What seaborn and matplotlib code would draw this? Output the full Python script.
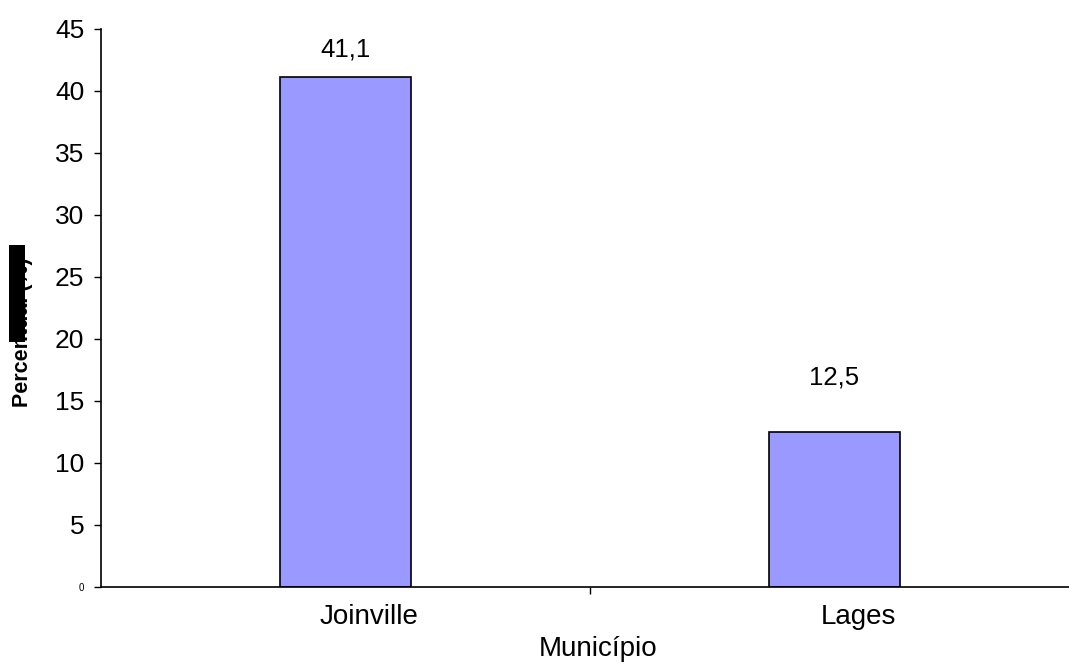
import matplotlib
matplotlib.use("Agg")
import matplotlib.pyplot as plt
import matplotlib.transforms as mtransforms
from matplotlib.patches import Rectangle
from matplotlib.ticker import FixedLocator
import seaborn as sns
import pandas as pd

municipios = ["Joinville", "Lages"]
percentual = [41.1, 12.5]
rotulos = ["41,1", "12,5"]
y_ticks = [0, 5, 10, 15, 20, 25, 30, 35, 40, 45]
label_offsets = [20, 39]

sns.set_style("white")
plt.rcParams["font.family"] = ["Liberation Sans", "DejaVu Sans"]
plt.rcParams["text.color"] = "black"
plt.rcParams["axes.labelcolor"] = "black"
plt.rcParams["xtick.color"] = "black"
plt.rcParams["ytick.color"] = "black"

df = pd.DataFrame({"Município": municipios, "Percentual": percentual})

fig = plt.figure(figsize=(10.69, 6.63), dpi=100)
ax = fig.add_axes([101 / 1069, 76 / 663, 978 / 1069, 558 / 663])

sns.barplot(data=df, x="Município", y="Percentual", color="#9999FF",
            edgecolor="black", linewidth=1.2, width=0.266, saturation=1, ax=ax)

ax.set_xlim(-0.5, 1.5)
ax.set_ylim(0, 45)
ax.set_yticks(y_ticks)
ax.set_yticklabels([str(v) for v in y_ticks])
for t in ax.get_yticklabels():
    if t.get_text() == "0":
        t.set_fontsize(7)
    else:
        t.set_fontsize(19)

ax.xaxis.set_minor_locator(FixedLocator([0.5]))
ax.tick_params(axis="x", which="major", length=0, labelsize=20, pad=12)
ax.tick_params(axis="x", which="minor", length=5, width=1, color="black",
               direction="out", bottom=True)
ax.tick_params(axis="y", length=5, width=1, color="black", direction="out",
               left=True, pad=7)

# category names sit slightly right of the bar centres
shift = mtransforms.ScaledTranslation(24 / 100, 0, fig.dpi_scale_trans)
for t in ax.get_xticklabels():
    t.set_transform(t.get_transform() + shift)

for side in ["top", "right"]:
    ax.spines[side].set_visible(False)
for side in ["left", "bottom"]:
    ax.spines[side].set_color("black")
    ax.spines[side].set_linewidth(1.2)

ax.set_xlabel("Município", fontsize=20)
ax.xaxis.set_label_coords(0.508, -0.088)
ax.set_ylabel("Percentual (%)", fontsize=15.5, fontweight="bold")
ax.yaxis.set_label_coords(-0.0695, 0.456)

for i, (v, txt, off) in enumerate(zip(percentual, rotulos, label_offsets)):
    ax.annotate(txt, xy=(i, v), xytext=(0, off), textcoords="offset points",
                ha="center", va="center", fontsize=18.5)

fig.patches.append(Rectangle((9 / 1069, 321 / 663), 16 / 1069, 97 / 663,
                             transform=fig.transFigure, facecolor="black",
                             edgecolor="none", zorder=5))

fig.savefig("out.png", dpi=100)
